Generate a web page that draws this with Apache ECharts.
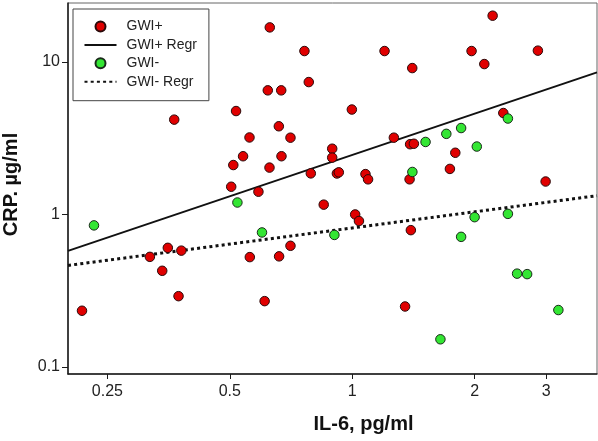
<!DOCTYPE html>
<html><head><meta charset="utf-8">
<script src="https://cdn.jsdelivr.net/npm/echarts@6/dist/echarts.min.js"></script>
<style>html,body{margin:0;padding:0;background:#fff}#c{width:598px;height:441px}</style>
</head><body><div id="c"></div>
<script>
// IL-6 (pg/ml) and CRP (µg/ml) values
const gwiPosIL6 = [0.627,0.763,0.782,0.620,0.669,0.518,0.365,0.660,0.559,0.705,0.539,0.670,0.510,0.626,0.504,0.588,
  0.2165,0.318,0.341,0.352,0.380,0.374,0.560,0.609,0.661,0.705,
  1.201,1.405,1.966,2.113,2.215,2.862,0.998,2.353,1.266,1.388,1.418,1.793,1.739,1.384,1.078,1.094,2.990,0.893,0.893,0.791,0.917,0.927,0.851,1.017,1.039,1.394,1.349];
const gwiPosCRP = [16.88,11.81,7.39,6.52,6.52,4.77,4.19,3.79,3.20,3.19,2.41,2.41,2.11,2.03,1.52,1.41,
  0.2335,0.527,0.427,0.604,0.579,0.291,0.525,0.270,0.531,0.623,
  11.81,9.13,11.81,9.70,20.14,11.88,4.88,4.63,3.19,2.89,2.91,2.54,1.99,1.70,1.84,1.70,1.645,2.70,2.36,1.86,1.857,1.89,1.16,1.00,0.906,0.789,0.249];
const gwiNegIL6 = [0.2317,0.522,0.600,0.904,1.515,1.704,1.853,2.025,2.415,1.406,2.000,2.415,1.853,2.544,2.693,1.648,3.214];
const gwiNegCRP = [0.848,1.198,0.762,0.734,2.99,3.38,3.69,2.79,4.26,1.90,0.960,1.009,0.713,0.409,0.406,0.1517,0.236];
const regrPosIL6 = [0.2, 4];
const regrPosCRP = [0.577, 8.56];
const regrNegIL6 = [0.2, 4];
const regrNegCRP = [0.463, 1.328];
const xTicks = [0.25, 0.5, 1, 2, 3];
const yTicks = [0.1, 1, 10];
const xRange = [0.2, 4];
const yRange = [0.0898, 24.4];
const seriesNames = ['GWI+', 'GWI+ Regr', 'GWI-', 'GWI- Regr'];
const xTitle = 'IL-6, pg/ml';
const yTitle = 'CRP. µg/ml';

const L = Math.log10;
const pts = (xs, ys) => xs.map((x, i) => [L(x), L(ys[i])]);
const fmt = v => String(Number(Math.pow(10, v).toPrecision(3)));
const font = 'Arial, "Liberation Sans", Helvetica, sans-serif';

const chart = echarts.init(document.getElementById('c'), null, {renderer: 'canvas'});
chart.setOption({
  animation: false,
  backgroundColor: '#fff',
  grid: {left: 68, right: 1, top: 3, bottom: 67, show: true, borderColor: '#666', borderWidth: 1,
         backgroundColor: 'transparent', containLabel: false, outerBoundsMode: 'none'},
  legend: {
    orient: 'vertical', left: 73, top: 9,
    data: [
      {name: seriesNames[0]},
      {name: seriesNames[1], itemStyle: {opacity: 0}},
      {name: seriesNames[2]},
      {name: seriesNames[3], itemStyle: {opacity: 0}}
    ],
    itemWidth: 32, itemHeight: 10, itemGap: 4.4,
    padding: [10.5, 12, 12, 10.5],
    borderColor: '#444', borderWidth: 1,
    textStyle: {fontFamily: font, fontSize: 14, color: '#222', lineHeight: 14, padding: [0, 0, 0, 5]}
  },
  xAxis: {
    type: 'value', min: L(xRange[0]), max: L(xRange[1]),
    name: xTitle, nameLocation: 'middle', nameGap: 40,
    nameTextStyle: {fontFamily: font, fontSize: 20, fontWeight: 'bold', color: '#111', padding: [0, 0, 0, 62]},
    splitLine: {show: false},
    axisLine: {onZero: false, lineStyle: {color: '#1a1a1a', width: 1.5}},
    axisTick: {customValues: xTicks.map(L), length: 5, lineStyle: {color: '#1a1a1a', width: 1}},
    axisLabel: {customValues: xTicks.map(L), formatter: fmt, margin: 10, fontFamily: font, fontSize: 16, color: '#222'}
  },
  yAxis: {
    type: 'value', min: L(yRange[0]), max: L(yRange[1]),
    name: yTitle, nameLocation: 'middle', nameGap: 47,
    nameTextStyle: {fontFamily: font, fontSize: 20, fontWeight: 'bold', color: '#111', padding: [0, 0, 0, 8]},
    splitLine: {show: false},
    axisLine: {onZero: false, lineStyle: {color: '#1a1a1a', width: 1.5}},
    axisTick: {customValues: yTicks.map(L), length: 6, lineStyle: {color: '#1a1a1a', width: 1}},
    axisLabel: {customValues: yTicks.map(L), formatter: fmt, margin: 8, fontFamily: font, fontSize: 16, color: '#222'}
  },
  series: [
    {name: seriesNames[0], type: 'scatter', z: 3, symbol: 'circle', symbolSize: 9.5,
     itemStyle: {color: '#e00000', borderColor: '#2a0a0a', borderWidth: 1, opacity: 1},
     data: pts(gwiPosIL6, gwiPosCRP)},
    {name: seriesNames[1], type: 'line', z: 2, symbol: 'none', silent: true,
     itemStyle: {color: '#111'},
     lineStyle: {color: '#111', width: 2, type: 'solid'},
     data: pts(regrPosIL6, regrPosCRP)},
    {name: seriesNames[2], type: 'scatter', z: 3, symbol: 'circle', symbolSize: 9.5,
     itemStyle: {color: '#33e633', borderColor: '#1a2a1a', borderWidth: 1, opacity: 1},
     data: pts(gwiNegIL6, gwiNegCRP)},
    {name: seriesNames[3], type: 'line', z: 2, symbol: 'none', silent: true,
     itemStyle: {color: '#111'},
     lineStyle: {color: '#111', width: 3, type: [3, 3.2], cap: 'butt'},
     data: pts(regrNegIL6, regrNegCRP)}
  ]
});
</script>
</body></html>
